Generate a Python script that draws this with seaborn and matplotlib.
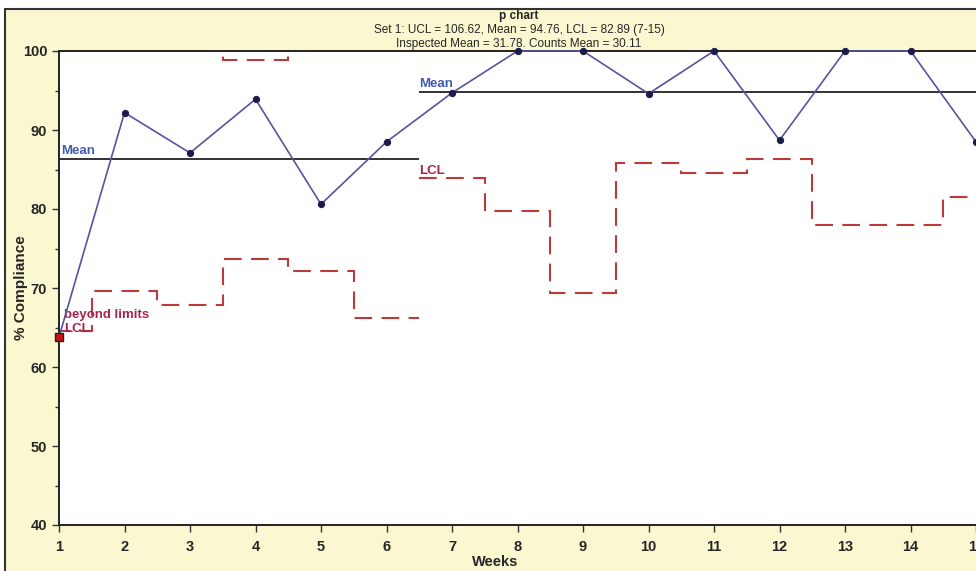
import numpy as np
import pandas as pd
import matplotlib
matplotlib.use("Agg")
import matplotlib.pyplot as plt
from matplotlib.patches import Rectangle
from matplotlib.ticker import MultipleLocator
import seaborn as sns

# weekly % compliance
weeks = list(range(1, 16))
compliance = [63.8, 92.2, 87.1, 93.9, 80.6, 88.5, 94.7, 100.0, 100.0, 94.6,
              100.0, 88.7, 100.0, 100.0, 88.5]

# set 1 = weeks 1-6, set 2 = weeks 7-15
set1_weeks = weeks[:6]
set2_weeks = weeks[6:]
mean1 = 86.3
mean2 = 94.76
lcl1 = [64.6, 69.6, 67.8, 73.7, 72.2, 66.2]
lcl2 = [83.9, 79.7, 69.4, 85.8, 84.6, 86.3, 78.0, 78.0, 81.5]
ucl1 = [2 * mean1 - v for v in lcl1]
ucl2 = [2 * mean2 - v for v in lcl2]

df = pd.DataFrame({"Weeks": weeks, "% Compliance": compliance})

sns.set_style("ticks")
plt.rcParams["font.family"] = ["Liberation Sans", "DejaVu Sans"]

bg = "#fbf7d0"
line_col = "#55559e"
dot_col = "#1c1c4c"
lim_col = "#bb3a3a"
mean_txt = "#3d5db0"
lcl_txt = "#a82250"

fig = plt.figure(figsize=(9.76, 5.71), dpi=100, facecolor="white")
fig.patches.append(Rectangle((5 / 976, -0.1), 1.2, 1 - 9 / 571 + 0.1,
                             transform=fig.transFigure, facecolor=bg,
                             edgecolor="#333333", linewidth=1.5, zorder=-10))

ax = fig.add_axes([59 / 976, 46 / 571, 14.5 * 65.5 / 976, 474 / 571])
ax.set_facecolor("white")

# control limits (step per week)
for vals, wk in [(lcl1, set1_weeks), (ucl1, set1_weeks), (lcl2, set2_weeks), (ucl2, set2_weeks)]:
    edges = np.arange(wk[0] - 0.5, wk[-1] + 1.0, 1.0)
    ax.stairs(vals, edges, baseline=None, color=lim_col, linewidth=1.5,
              linestyle=(0, (8.5, 4.5)), zorder=2)

# means
ax.hlines(mean1, set1_weeks[0] - 0.5, set1_weeks[-1] + 0.5, color="#222222", linewidth=1.3, zorder=3)
ax.hlines(mean2, set2_weeks[0] - 0.5, set2_weeks[-1] + 0.5, color="#222222", linewidth=1.3, zorder=3)

sns.lineplot(data=df, x="Weeks", y="% Compliance", ax=ax, color=line_col,
             linewidth=1.2, marker="o", markersize=4.5, markerfacecolor=dot_col,
             markeredgecolor=dot_col, zorder=4, clip_on=False)
# point beyond limits
ax.plot(weeks[0], compliance[0], marker="s", markersize=6, markerfacecolor="#cc1111",
        markeredgecolor="#222222", linestyle="none", zorder=5, clip_on=False)

ax.text(1.03, mean1 + 0.3, "Mean", color=mean_txt, fontsize=9.5, fontweight="bold", va="bottom")
ax.text(6.5, mean2 + 0.3, "Mean", color=mean_txt, fontsize=9.5, fontweight="bold", va="bottom")
ax.text(6.5, lcl2[0] + 0.2, "LCL", color=lcl_txt, fontsize=9.5, fontweight="bold", va="bottom")
ax.text(1.08, 65.8, "beyond limits", color=lcl_txt, fontsize=9.5, fontweight="bold", va="bottom")
ax.text(1.08, 64.0, "LCL", color=lcl_txt, fontsize=9.5, fontweight="bold", va="bottom")

ax.set_xlim(1, 15.5)
ax.set_ylim(40, 100)
ax.set_xticks(weeks)
ax.yaxis.set_major_locator(MultipleLocator(10))
ax.yaxis.set_minor_locator(MultipleLocator(5))
ax.tick_params(axis="both", which="major", labelsize=10.5, length=5, width=1, color="#333333")
ax.tick_params(axis="y", which="minor", length=3, width=1, color="#333333")
ax.tick_params(axis="x", pad=6)
for lab in ax.get_xticklabels() + ax.get_yticklabels():
    lab.set_fontweight("bold")

for side in ["left", "bottom", "top"]:
    ax.spines[side].set_visible(True)
    ax.spines[side].set_linewidth(1.4)
    ax.spines[side].set_color("#222222")
ax.spines["right"].set_visible(False)

ax.set_xlabel("Weeks", fontsize=10.5, fontweight="bold")
ax.set_ylabel("% Compliance", fontsize=11, fontweight="bold")
ax.xaxis.set_label_coords((495 - 59) / 949.75, -(555 - 525) / 474)
ax.yaxis.set_label_coords(-(59 - 28) / 949.75, 0.5)

cx = 519 / 976
fig.text(cx, 1 - 16 / 571, "p chart", ha="center", va="center", fontsize=8.5, fontweight="bold")
fig.text(cx, 1 - 30 / 571, "Set 1: UCL = 106.62, Mean = 94.76, LCL = 82.89 (7-15)",
         ha="center", va="center", fontsize=8.5)
fig.text(cx, 1 - 44 / 571, "Inspected Mean = 31.78. Counts Mean = 30.11",
         ha="center", va="center", fontsize=8.5)

fig.savefig("out.png", dpi=100)
